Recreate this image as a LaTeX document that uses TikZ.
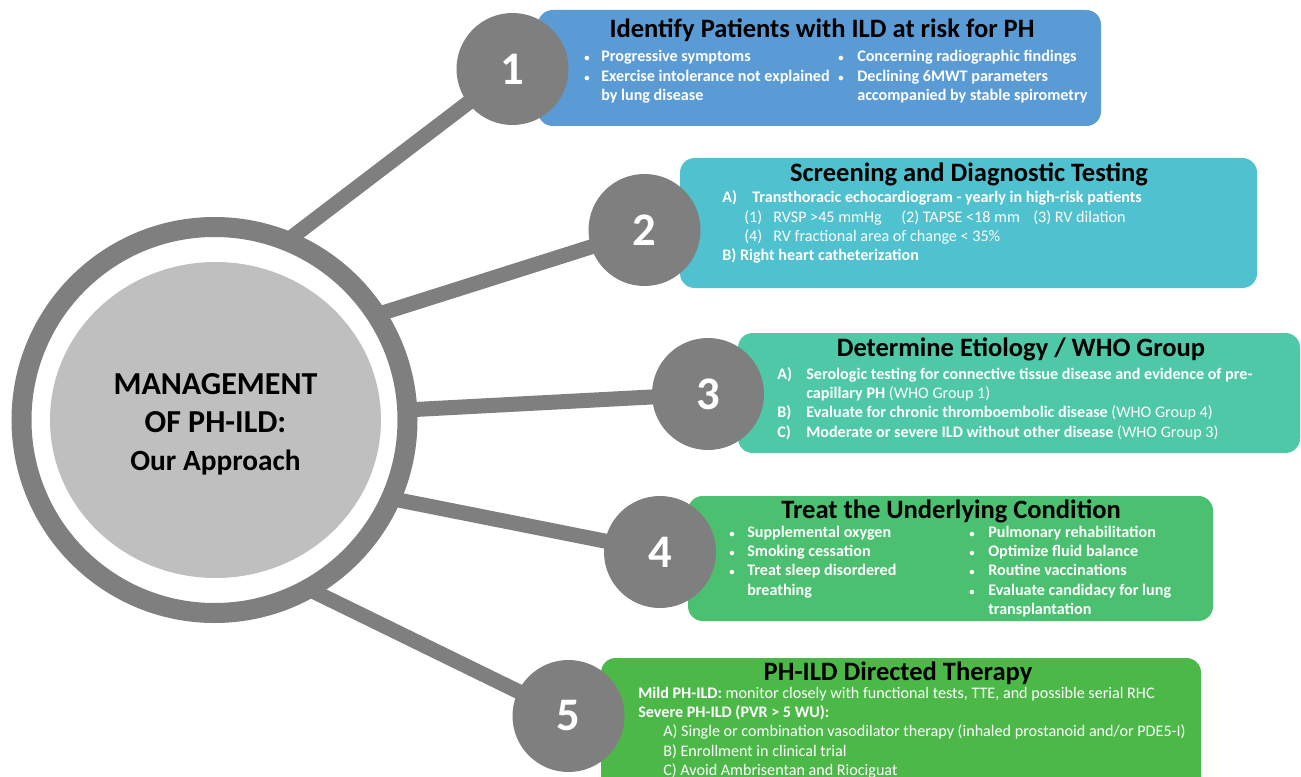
\documentclass[tikz,border=0pt]{standalone}
\usepackage{fontspec}
\setmainfont{Carlito}
\usetikzlibrary{shapes.geometric}

\definecolor{spokegray}{RGB}{127,127,127}
\definecolor{coregray}{RGB}{191,191,191}
\definecolor{boxblue}{RGB}{91,155,213}
\definecolor{boxteal}{RGB}{80,193,206}
\definecolor{boxsea}{RGB}{78,200,166}
\definecolor{boxgreen}{RGB}{75,192,112}
\definecolor{boxlime}{RGB}{76,184,72}

\newcommand{\bodyfont}{\fontsize{12.1}{14.5}\selectfont}
\newcommand{\bul}{{\fontsize{8}{8}\selectfont\textbullet}}

\begin{document}
\begin{tikzpicture}[x=0.75pt,y=-0.75pt,
    spoke/.style={draw=spokegray,line width=11.25pt},
    stagebox/.style={rounded corners=11pt,inner sep=0pt},
    numdisk/.style={circle,fill=spokegray,minimum size=84pt,inner sep=0pt,text=white,
      font=\fontsize{35}{35}\selectfont\bfseries},
    boxtitle/.style={anchor=base,inner sep=0pt,font=\fontsize{19.9}{24}\selectfont\bfseries},
    boxtext/.style={anchor=base west,inner sep=0pt,text=white,font=\bodyfont},
    boldtext/.style={boxtext,font=\bodyfont\bfseries}]
        \useasboundingbox (0,0) rectangle (1301,777);
        \node[circle,draw=spokegray,line width=15pt,minimum size=289.5pt,inner sep=0pt,outer sep=0pt] (hub) at (214.5,420) {};
        \node[ellipse,fill=coregray,minimum width=248.25pt,minimum height=237pt,inner sep=0pt] (core) at (215.5,420) {};
        \node[align=center,inner sep=0pt,font=\fontsize{24}{28.5}\selectfont\bfseries] (ttl) at (215.5,424)
          {MANAGEMENT\\OF PH-ILD:\\{\fontsize{22}{26}\selectfont Our Approach}};
        \node[stagebox,fill=boxblue,minimum width=422.25pt,minimum height=87pt] (box1) at (819.5,68) {};
        \node[stagebox,fill=boxteal,minimum width=432.75pt,minimum height=97.5pt] (box2) at (968.5,223) {};
        \node[stagebox,fill=boxsea,minimum width=421.5pt,minimum height=90pt] (box3) at (1019,393) {};
        \node[stagebox,fill=boxgreen,minimum width=393.75pt,minimum height=93.75pt] (box4) at (950.5,558.5) {};
        \node[stagebox,fill=boxlime,minimum width=450pt,minimum height=106.5pt] (box5) at (901,729) {};
        \coordinate (c1) at (512.5,69);
        \coordinate (c2) at (644.5,230);
        \coordinate (c3) at (708,394);
        \coordinate (c4) at (660,552);
        \coordinate (c5) at (568.5,716);
        \draw[spoke] (hub.68) -- (c1);
        \draw[spoke] (hub.33) -- (c2);
        \draw[spoke] (hub.3) -- (c3);
        \draw[spoke] (hub.-24) -- (c4);
        \draw[spoke] (hub.-61) -- (c5);
        \node[numdisk] (n1) at (c1) {1};
        \node[numdisk] (n2) at (c2) {2};
        \node[numdisk] (n3) at (c3) {3};
        \node[numdisk] (n4) at (c4) {4};
        \node[numdisk] (n5) at (c5) {5};

        \node[boxtitle] (t1) at (822,37.5) {Identify Patients with ILD at risk for PH};
        \node[boldtext] (l1) at (584,62) {\begin{tabular}[t]{@{}p{12.75pt}@{}l@{}}
          \bul & Progressive symptoms\\
          \bul & Exercise intolerance not explained\\
               & by lung disease\end{tabular}};
        \node[boldtext] (r1) at (838,62) {\begin{tabular}[t]{@{}p{14.25pt}@{}l@{}}
          \bul & Concerning radiographic findings\\
          \bul & Declining 6MWT parameters\\
               & accompanied by stable spirometry\end{tabular}};

        \node[boxtitle] (t2) at (969,182) {Screening and Diagnostic Testing};
        \node[boxtext] (l2) at (722,203) {\begin{tabular}[t]{@{}l@{}}
          \textbf{\makebox[22.5pt][l]{A)}Transthoracic echocardiogram - yearly in high-risk patients}\\
          \hspace*{16.5pt}\makebox[21.75pt][l]{(1)}\makebox[96pt][l]{RVSP >45 mmHg}\makebox[99pt][l]{(2) TAPSE <18 mm}(3) RV dilation\\
          \hspace*{16.5pt}\makebox[21.75pt][l]{(4)}RV fractional area of change < 35\%\\
          \textbf{B) Right heart catheterization}\end{tabular}};

        \node[boxtitle] (t3) at (1021,356) {Determine Etiology / WHO Group};
        \node[boxtext] (l3) at (777,379) {\begin{tabular}[t]{@{}p{21.75pt}@{}l@{}}
          \textbf{A)} & \textbf{Serologic testing for connective tissue disease and evidence of pre-}\\
                      & \textbf{capillary PH} (WHO Group 1)\\
          \textbf{B)} & \textbf{Evaluate for chronic thromboembolic disease} (WHO Group 4)\\
          \textbf{C)} & \textbf{Moderate or severe ILD without other disease} (WHO Group 3)\end{tabular}};

        \node[boxtitle] (t4) at (951,518) {Treat the Underlying Condition};
        \node[boldtext] (l4) at (729,537) {\begin{tabular}[t]{@{}p{13.5pt}@{}l@{}}
          \bul & Supplemental oxygen\\
          \bul & Smoking cessation\\
          \bul & Treat sleep disordered\\
               & breathing\end{tabular}};
        \node[boldtext] (r4) at (969,537) {\begin{tabular}[t]{@{}p{14.25pt}@{}l@{}}
          \bul & Pulmonary rehabilitation\\
          \bul & Optimize fluid balance\\
          \bul & Routine vaccinations\\
          \bul & Evaluate candidacy for lung\\
               & transplantation\end{tabular}};

        \node[boxtitle] (t5) at (898,680) {PH-ILD Directed Therapy};
        \node[boxtext] (l5) at (638,698) {\begin{tabular}[t]{@{}l@{}}
          \textbf{Mild PH-ILD:} monitor closely with functional tests, TTE, and possible serial RHC\\
          \textbf{Severe PH-ILD (PVR > 5 WU):}\\
          \hspace*{18.75pt}A) Single or combination vasodilator therapy (inhaled prostanoid and/or PDE5-I)\\
          \hspace*{18.75pt}B) Enrollment in clinical trial\\
          \hspace*{18.75pt}C) Avoid Ambrisentan and Riociguat\end{tabular}};
      \end{tikzpicture}
\end{document}
